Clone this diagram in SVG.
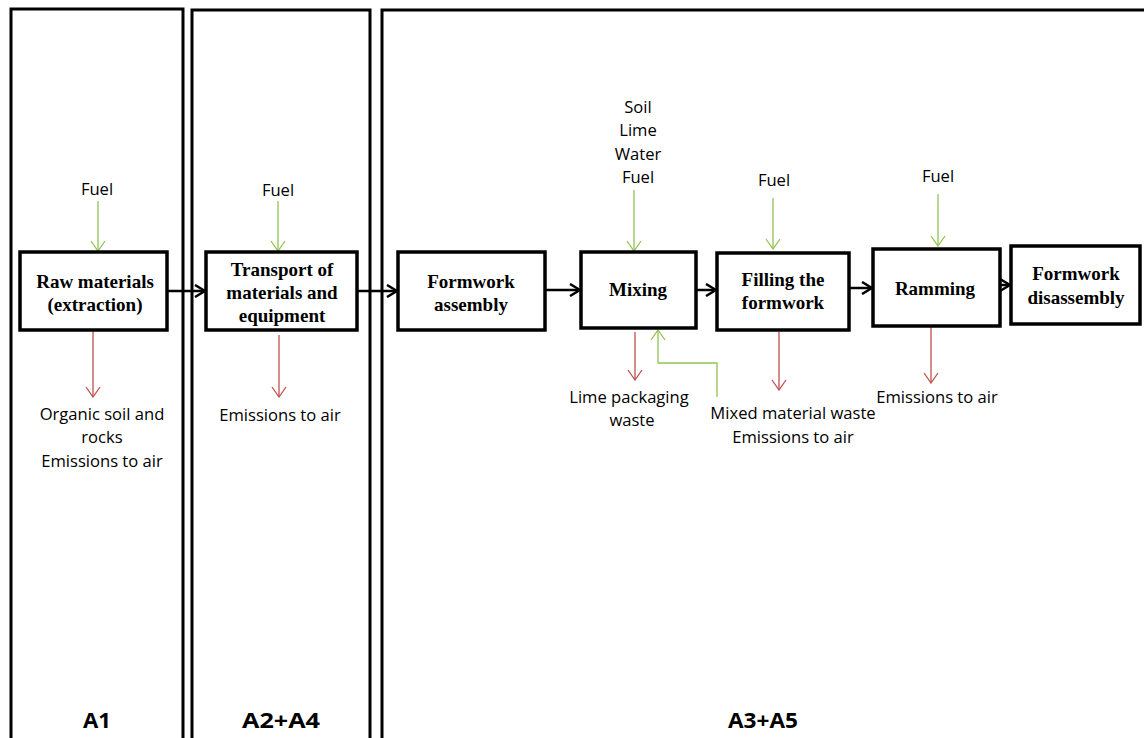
<svg xmlns="http://www.w3.org/2000/svg" width="1144" height="738" viewBox="0 0 1144 738">
<defs>
<style>
.panel{fill:none;stroke:#000;stroke-width:3}
.box{fill:#fff;stroke:#000;stroke-width:3.5}
.bt{font-family:"Liberation Serif","Times New Roman",serif;font-weight:bold;font-size:19px;text-anchor:middle;fill:#000}
.lt{font-family:"Open Sans","Liberation Sans",sans-serif;font-size:16.6px;text-anchor:middle;fill:#000}
.st{font-family:"Open Sans","Liberation Sans",sans-serif;font-weight:bold;font-size:22px;text-anchor:middle;fill:#000}
.flow{fill:none;stroke:#000;stroke-width:2.5}
.in{fill:none;stroke:#92c353;stroke-width:1.3}
.out{fill:none;stroke:#c0504d;stroke-width:1.3}
</style>
<marker id="ab" viewBox="0 0 12 14" refX="11" refY="7" markerWidth="12" markerHeight="14" markerUnits="userSpaceOnUse" orient="auto"><path d="M1,1 L11,7 L1,13" fill="none" stroke="#000" stroke-width="2.5"/></marker>
<marker id="ag" viewBox="0 0 12 16" refX="11" refY="8" markerWidth="12" markerHeight="16" markerUnits="userSpaceOnUse" orient="auto"><path d="M1,1 L11,8 L1,15" fill="none" stroke="#92c353" stroke-width="1.3"/></marker>
<marker id="ar" viewBox="0 0 12 16" refX="11" refY="8" markerWidth="12" markerHeight="16" markerUnits="userSpaceOnUse" orient="auto"><path d="M1,1 L11,8 L1,15" fill="none" stroke="#c0504d" stroke-width="1.3"/></marker>
</defs>
<rect width="1144" height="738" fill="#fff"/>
<g id="stages">
<path class="panel" d="M11,745 V9 H183 V745"/>
<path class="panel" d="M192,745 V10 H370 V745"/>
<path class="panel" d="M382,745 V10 H1150"/>
<text class="st" x="97" y="728" textLength="28" lengthAdjust="spacingAndGlyphs">A1</text>
<text class="st" x="281" y="728" textLength="78" lengthAdjust="spacingAndGlyphs">A2+A4</text>
<text class="st" x="763" y="728" textLength="70" lengthAdjust="spacingAndGlyphs">A3+A5</text>
</g>
<g id="connectors">
<line class="flow" x1="167" y1="291" x2="205" y2="291" marker-end="url(#ab)"/>
<line class="flow" x1="357" y1="291" x2="397" y2="291" marker-end="url(#ab)"/>
<line class="flow" x1="545" y1="290" x2="580" y2="290" marker-end="url(#ab)"/>
<line class="flow" x1="696" y1="290" x2="716" y2="290" marker-end="url(#ab)"/>
<line class="flow" x1="849" y1="288" x2="872" y2="288" marker-end="url(#ab)"/>
<line class="flow" x1="1000" y1="285" x2="1010" y2="285" marker-end="url(#ab)"/>
<line class="in" x1="98" y1="201" x2="98" y2="251" marker-end="url(#ag)"/>
<line class="in" x1="278" y1="201" x2="278" y2="251" marker-end="url(#ag)"/>
<line class="in" x1="634" y1="190" x2="634" y2="251" marker-end="url(#ag)"/>
<line class="in" x1="773" y1="198" x2="773" y2="249" marker-end="url(#ag)"/>
<line class="in" x1="938" y1="194" x2="938" y2="246" marker-end="url(#ag)"/>
<path class="in" d="M717,397 V363 H658 V330" marker-end="url(#ag)"/>
<line class="out" x1="93" y1="331" x2="93" y2="397" marker-end="url(#ar)"/>
<line class="out" x1="279" y1="335" x2="279" y2="397" marker-end="url(#ar)"/>
<line class="out" x1="635" y1="332" x2="635" y2="380" marker-end="url(#ar)"/>
<line class="out" x1="779" y1="332" x2="779" y2="390" marker-end="url(#ar)"/>
<line class="out" x1="931" y1="326" x2="931" y2="383" marker-end="url(#ar)"/>
</g>
<g id="raw">
<rect class="box" x="20" y="252" width="147" height="78"/>
<text class="bt" x="95" y="288">Raw materials</text>
<text class="bt" x="95" y="311">(extraction)</text>
<text class="lt" x="97" y="195">Fuel</text>
<text class="lt" x="102" y="420">Organic soil and</text>
<text class="lt" x="102" y="443">rocks</text>
<text class="lt" x="102" y="467">Emissions to air</text>
</g>
<g id="transport">
<rect class="box" x="206" y="252" width="151" height="78"/>
<text class="bt" x="282" y="276">Transport of</text>
<text class="bt" x="282" y="299">materials and</text>
<text class="bt" x="282" y="322">equipment</text>
<text class="lt" x="278" y="196">Fuel</text>
<text class="lt" x="280" y="421">Emissions to air</text>
</g>
<g id="formwork-assembly">
<rect class="box" x="398" y="252" width="147" height="78"/>
<text class="bt" x="471" y="288">Formwork</text>
<text class="bt" x="471" y="311">assembly</text>
</g>
<g id="mixing">
<rect class="box" x="581" y="252" width="115" height="76"/>
<text class="bt" x="638" y="296">Mixing</text>
<text class="lt" x="638" y="113">Soil</text>
<text class="lt" x="638" y="136">Lime</text>
<text class="lt" x="638" y="160">Water</text>
<text class="lt" x="638" y="183">Fuel</text>
<text class="lt" x="629" y="403">Lime packaging</text>
<text class="lt" x="632" y="426">waste</text>
</g>
<g id="filling">
<rect class="box" x="717" y="253" width="132" height="77"/>
<text class="bt" x="783" y="286">Filling the</text>
<text class="bt" x="783" y="309">formwork</text>
<text class="lt" x="774" y="186">Fuel</text>
<text class="lt" x="793" y="419">Mixed material waste</text>
<text class="lt" x="793" y="443">Emissions to air</text>
</g>
<g id="ramming">
<rect class="box" x="873" y="249" width="127" height="77"/>
<text class="bt" x="935" y="295">Ramming</text>
<text class="lt" x="938" y="182">Fuel</text>
<text class="lt" x="937" y="403">Emissions to air</text>
</g>
<g id="formwork-disassembly">
<rect class="box" x="1011" y="246" width="129" height="78"/>
<text class="bt" x="1076" y="280">Formwork</text>
<text class="bt" x="1076" y="304">disassembly</text>
</g>
</svg>
